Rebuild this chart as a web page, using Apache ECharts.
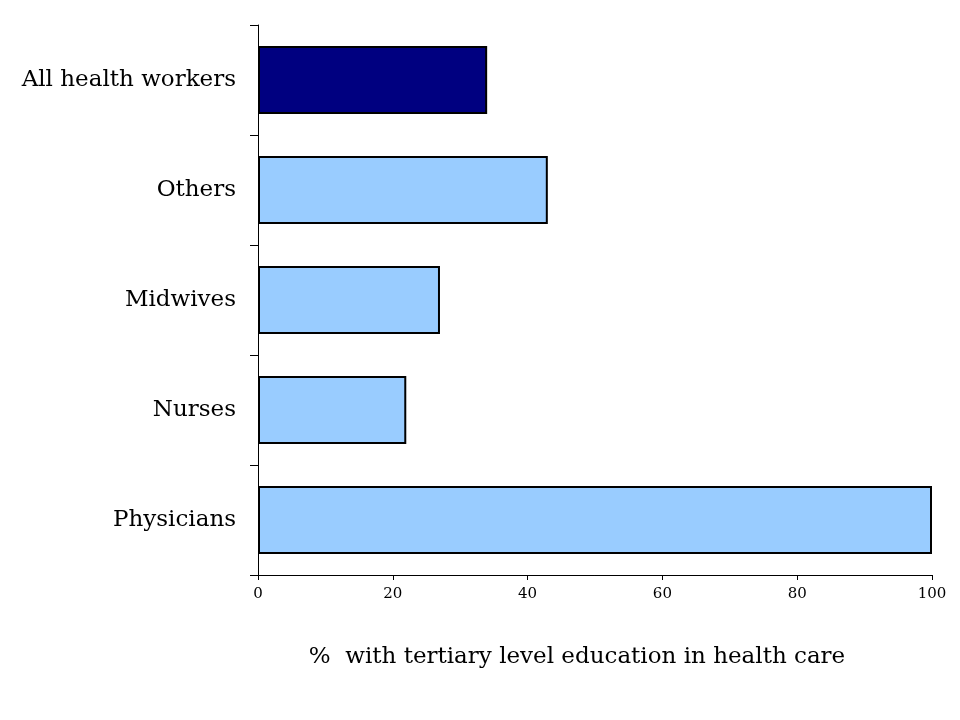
<!DOCTYPE html>
<html>
<head>
<meta charset="utf-8">
<script src="https://cdn.jsdelivr.net/npm/echarts@6/dist/echarts.min.js"></script>
<style>
  html, body { margin: 0; padding: 0; background: #fff; }
  #chart { width: 960px; height: 720px; }
</style>
</head>
<body>
<div id="chart"></div>
<script>
const categories = ['Physicians', 'Nurses', 'Midwives', 'Others', 'All health workers'];
const values = [100, 22, 27, 43, 34];
const xTicks = [0, 20, 40, 60, 80, 100];

const chart = echarts.init(document.getElementById('chart'));
const serif = 'DejaVu Serif';

chart.setOption({
  animation: false,
  grid: { left: 258, right: 28, top: 25, bottom: 145 },
  xAxis: {
    type: 'value',
    min: xTicks[0],
    max: xTicks[xTicks.length - 1],
    interval: 20,
    name: '%  with tertiary level education in health care',
    nameLocation: 'middle',
    nameGap: 71,
    nameTextStyle: { fontFamily: serif, fontSize: 23, color: '#000', padding: [0, 36, 0, 0] },
    axisLine: { show: true, lineStyle: { color: '#000', width: 1 } },
    axisTick: { show: true, length: 5, lineStyle: { color: '#000' } },
    axisLabel: { fontFamily: serif, fontSize: 15, color: '#000', margin: 12 },
    splitLine: { show: false }
  },
  yAxis: {
    type: 'category',
    data: categories,
    axisLine: { show: true, lineStyle: { color: '#000', width: 1 } },
    axisTick: { show: true, length: 8, alignWithLabel: false, lineStyle: { color: '#000' } },
    axisLabel: { fontFamily: serif, fontSize: 23, color: '#000', margin: 22 }
  },
  series: [{
    type: 'bar',
    barCategoryGap: '38%',
    data: values.map(function (v, i) {
      return {
        value: v,
        itemStyle: { color: categories[i] === 'All health workers' ? '#000080' : '#99ccff' }
      };
    }),
    itemStyle: { borderColor: '#000', borderWidth: 2 }
  }]
});
</script>
</body>
</html>
